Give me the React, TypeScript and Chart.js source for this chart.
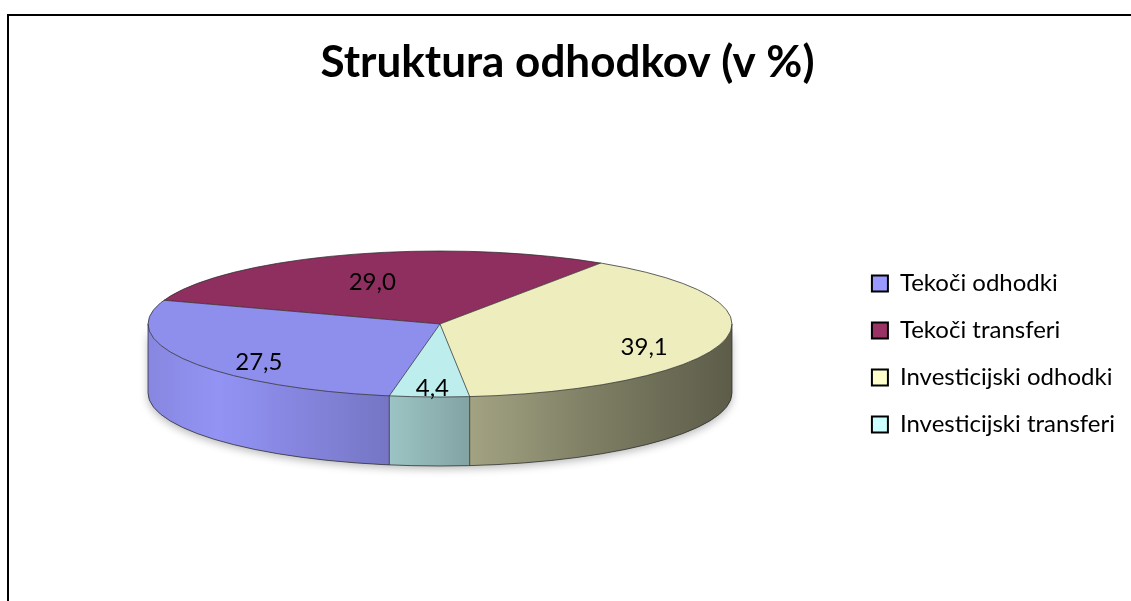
import React, { useEffect, useRef } from "react";
import { Chart, registerables } from "chart.js";

Chart.register(...registerables);

// ---- data ----
const categories = ["Tekoči odhodki", "Tekoči transferi", "Investicijski odhodki", "Investicijski transferi"];
const values = [27.5, 29.0, 39.1, 4.4];
const valueLabels = ["27,5", "29,0", "39,1", "4,4"];
const baseColors = ["#9999FF", "#993366", "#FFFFCC", "#CCFFFF"];
const titleText = "Struktura odhodkov (v %)";

// ---- layout / style ----
const W = 1131;
const H = 601;
const GEOM = { cx: 440, cy: 324, rx: 292, ry: 73, depth: 69 };
const FONT = "Lato, 'Open Sans', sans-serif";

function hexToRgb(hex: string) {
  const h = hex.replace("#", "");
  return [parseInt(h.slice(0, 2), 16), parseInt(h.slice(2, 4), 16), parseInt(h.slice(4, 6), 16)];
}
function shade(hex: string, f: number) {
  const [r, g, b] = hexToRgb(hex);
  const c = (v: number) => Math.max(0, Math.min(255, Math.round(v * f)));
  return `rgb(${c(r)},${c(g)},${c(b)})`;
}
const topColors = baseColors.map((c) => shade(c, 0.93));

function wallGradient(ctx: CanvasRenderingContext2D, hex: string) {
  const { cx, rx } = GEOM;
  const g = ctx.createLinearGradient(cx - rx, 0, cx + rx, 0);
  const stops: [number, number][] = [
    [0, 0.88],
    [0.12, 0.96],
    [0.4, 0.78],
    [0.55, 0.64],
    [0.75, 0.5],
    [1, 0.36],
  ];
  stops.forEach(([t, f]) => g.addColorStop(t, shade(hex, f)));
  return g;
}

const pie3d = {
  id: "pie3d",
  beforeDatasetsDraw(chart: any) {
    const meta = chart.getDatasetMeta(0);
    const arcs = meta.data;
    if (!arcs.length) return;
    const ctx: CanvasRenderingContext2D = chart.ctx;
    const { cx, cy, rx, ry, depth } = GEOM;

    // soft shadow under the cylinder
    ctx.save();
    ctx.shadowColor = "rgba(0,0,0,0.28)";
    ctx.shadowBlur = 8;
    ctx.shadowOffsetY = 3;
    ctx.beginPath();
    ctx.ellipse(cx, cy, rx, ry, 0, 0, Math.PI, false);
    ctx.ellipse(cx, cy + depth, rx, ry, 0, Math.PI, 0, true);
    ctx.closePath();
    ctx.fillStyle = "#888";
    ctx.fill();
    ctx.restore();

    // side walls
    ctx.save();
    arcs.forEach((arc: any, i: number) => {
      const { startAngle, endAngle } = arc.getProps(["startAngle", "endAngle"], true);
      for (const k of [-2 * Math.PI, 0, 2 * Math.PI]) {
        const a = Math.max(startAngle, k);
        const b = Math.min(endAngle, k + Math.PI);
        if (b <= a) continue;
        ctx.beginPath();
        ctx.ellipse(cx, cy, rx, ry, 0, a, b, false);
        ctx.lineTo(cx + rx * Math.cos(b), cy + depth + ry * Math.sin(b));
        ctx.ellipse(cx, cy + depth, rx, ry, 0, b, a, true);
        ctx.closePath();
        ctx.fillStyle = wallGradient(ctx, baseColors[i]);
        ctx.fill();
      }
    });
    ctx.restore();

    // squash the library's pie into the top face ellipse
    const { x, y, outerRadius } = arcs[0].getProps(["x", "y", "outerRadius"], true);
    ctx.save();
    ctx.translate(cx, cy);
    ctx.scale(rx / outerRadius, ry / outerRadius);
    ctx.translate(-x, -y);
  },
  afterDatasetsDraw(chart: any) {
    const meta = chart.getDatasetMeta(0);
    const arcs = meta.data;
    if (!arcs.length) return;
    const ctx: CanvasRenderingContext2D = chart.ctx;
    ctx.restore();
    const { cx, cy, rx, ry, depth } = GEOM;

    ctx.save();
    ctx.strokeStyle = "rgba(45,45,45,0.75)";
    ctx.lineWidth = 1;
    // top ellipse outline
    ctx.beginPath();
    ctx.ellipse(cx, cy, rx, ry, 0, 0, Math.PI * 2);
    ctx.stroke();
    // bottom front arc
    ctx.beginPath();
    ctx.ellipse(cx, cy + depth, rx, ry, 0, 0, Math.PI, false);
    ctx.stroke();
    // outer vertical edges
    ctx.beginPath();
    ctx.moveTo(cx - rx, cy);
    ctx.lineTo(cx - rx, cy + depth);
    ctx.moveTo(cx + rx, cy);
    ctx.lineTo(cx + rx, cy + depth);
    ctx.stroke();
    // slice edges
    arcs.forEach((arc: any) => {
      const { startAngle } = arc.getProps(["startAngle"], true);
      const px = cx + rx * Math.cos(startAngle);
      const py = cy + ry * Math.sin(startAngle);
      ctx.beginPath();
      ctx.moveTo(cx, cy);
      ctx.lineTo(px, py);
      if (Math.sin(startAngle) > 0) {
        ctx.lineTo(px, py + depth);
      }
      ctx.stroke();
    });
    ctx.restore();

    // value labels
    ctx.save();
    ctx.fillStyle = "#000";
    ctx.font = `24px ${FONT}`;
    ctx.textAlign = "center";
    ctx.textBaseline = "middle";
    arcs.forEach((arc: any, i: number) => {
      const { startAngle, endAngle } = arc.getProps(["startAngle", "endAngle"], true);
      const m = (startAngle + endAngle) / 2;
      const lx = cx + rx * 0.72 * Math.cos(m);
      const ly = cy + ry * 0.75 * Math.sin(m) + 10;
      ctx.fillText(valueLabels[i], lx, ly);
    });
    ctx.restore();
  },
  afterDraw(chart: any) {
    const ctx: CanvasRenderingContext2D = chart.ctx;
    ctx.save();
    ctx.strokeStyle = "#000";
    ctx.lineWidth = 2;
    ctx.beginPath();
    ctx.moveTo(W + 2, 15);
    ctx.lineTo(8, 15);
    ctx.lineTo(8, H + 2);
    ctx.stroke();
    ctx.restore();
  },
};

export default function App() {
  const ref = useRef<HTMLCanvasElement | null>(null);
  useEffect(() => {
    document.body.style.margin = "0";
    const canvas = ref.current;
    if (!canvas) return;
    const chart = new Chart(canvas, {
      type: "pie",
      data: {
        labels: categories,
        datasets: [
          {
            data: values,
            backgroundColor: topColors,
            borderWidth: 0,
          },
        ],
      },
      options: {
        responsive: false,
        animation: false,
        rotation: 190,
        events: [],
        layout: { padding: { left: 10, right: 6, top: 0, bottom: 0 } },
        plugins: {
          tooltip: { enabled: false },
          title: {
            display: true,
            text: titleText,
            color: "#000",
            font: { family: FONT, size: 44, weight: "bold" },
            padding: { top: 36, bottom: 18 },
          },
          legend: {
            display: true,
            position: "right",
            fullSize: false,
            labels: {
              color: "#000",
              font: { family: FONT, size: 24 },
              boxWidth: 16,
              boxHeight: 16,
              padding: 23,
              generateLabels: () =>
                categories.map((c, i) => ({
                  text: c,
                  fillStyle: baseColors[i],
                  strokeStyle: "#000",
                  lineWidth: 2,
                  hidden: false,
                  index: i,
                  fontColor: "#000",
                })),
            },
          },
        },
      },
      plugins: [pie3d],
    });
    return () => chart.destroy();
  }, []);
  return (
    <div style={{ width: W, height: H }}>
      <canvas ref={ref} width={W} height={H} style={{ display: "block" }} />
    </div>
  );
}
